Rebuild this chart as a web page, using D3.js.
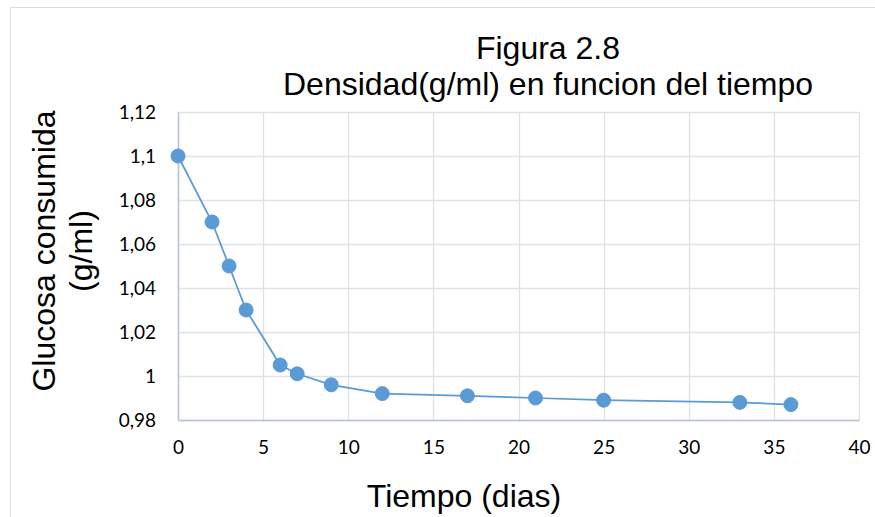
<!DOCTYPE html>
<html>
<head>
<meta charset="utf-8">
<script src="https://cdn.jsdelivr.net/npm/d3@7"></script>
<style>
  body { margin: 0; background: #fff; }
</style>
</head>
<body>
<div id="chart"></div>
<script>
// data
var dias = [0, 2, 3, 4, 6, 7, 9, 12, 17, 21, 25, 33, 36];
var densidad = [1.1, 1.07, 1.05, 1.03, 1.005, 1.001, 0.996, 0.992, 0.991, 0.99, 0.989, 0.988, 0.987];
var xTicks = [0, 5, 10, 15, 20, 25, 30, 35, 40];
var yTicks = [0.98, 1, 1.02, 1.04, 1.06, 1.08, 1.1, 1.12];
var titleLines = ["Figura 2.8", "Densidad(g/ml) en funcion del tiempo"];

const W = 875, H = 517;
const margin = {top: 112, right: 16, bottom: 97, left: 178};
const width = W - margin.left - margin.right,
      height = H - margin.top - margin.bottom;

const root = d3.select("#chart").append("svg")
    .attr("width", W).attr("height", H);

// outer chart border
root.append("rect")
    .attr("x", 10.5).attr("y", 7.5)
    .attr("width", W).attr("height", H)
    .attr("fill", "none").attr("stroke", "#d9dde3");

const svg = root.append("g")
    .attr("transform", `translate(${margin.left},${margin.top})`);

const x = d3.scaleLinear().domain([0, 40]).range([0, width]);
const y = d3.scaleLinear().domain([0.98, 1.12]).range([height, 0]);

// grid
svg.append("g")
    .selectAll("line")
    .data(yTicks)
    .join("line")
    .attr("x1", 0).attr("x2", width)
    .attr("y1", d => Math.round(y(d)) + 0.5).attr("y2", d => Math.round(y(d)) + 0.5)
    .attr("stroke", "#dde2e8").attr("stroke-width", 1.3);

svg.append("g")
    .selectAll("line")
    .data(xTicks)
    .join("line")
    .attr("y1", 0).attr("y2", height)
    .attr("x1", d => Math.round(x(d)) + 0.5).attr("x2", d => Math.round(x(d)) + 0.5)
    .attr("stroke", "#dde2e8").attr("stroke-width", 1.3);

const fmt = d => String(+d.toFixed(2)).replace(".", ",");

// axes
const xAxis = svg.append("g")
    .attr("transform", `translate(0,${height})`)
    .call(d3.axisBottom(x).tickValues(xTicks).tickSize(0).tickPadding(21).tickFormat(d => d));
xAxis.select(".domain").attr("stroke", "#b8c4d2").attr("stroke-width", 1.5);

const yAxis = svg.append("g")
    .call(d3.axisLeft(y).tickValues(yTicks).tickSize(0).tickPadding(22).tickFormat(fmt));
yAxis.select(".domain").attr("stroke", "#b8c4d2").attr("stroke-width", 1.5);

svg.selectAll(".tick text")
    .attr("fill", "#000")
    .style("font-family", "Lato, 'Open Sans', sans-serif")
    .style("font-size", "19px");

// line + markers
const line = d3.line()
    .x((d, i) => x(dias[i]))
    .y(d => y(d));

svg.append("path")
    .datum(densidad)
    .attr("d", line)
    .attr("fill", "none")
    .attr("stroke", "#5b9bd5")
    .attr("stroke-width", 1.75);

svg.selectAll("circle")
    .data(densidad)
    .join("circle")
    .attr("cx", (d, i) => x(dias[i]))
    .attr("cy", d => y(d))
    .attr("r", 7)
    .attr("fill", "#5b9bd5")
    .attr("stroke", "#5b9bd5");

// title
root.append("text")
    .attr("x", 548).attr("y", 59)
    .attr("text-anchor", "middle")
    .style("font-family", "'Liberation Sans', Arial, sans-serif")
    .style("font-size", "32px")
    .selectAll("tspan")
    .data(titleLines)
    .join("tspan")
    .attr("x", 548)
    .attr("dy", (d, i) => i === 0 ? 0 : 36)
    .text(d => d);

// axis titles
root.append("text")
    .attr("x", 464).attr("y", 507)
    .attr("text-anchor", "middle")
    .style("font-family", "'Liberation Sans', Arial, sans-serif")
    .style("font-size", "32px")
    .text("Tiempo (dias)");

const yl = root.append("text")
    .attr("transform", "translate(0,251) rotate(-90)")
    .attr("text-anchor", "middle")
    .style("font-family", "'Liberation Sans', Arial, sans-serif")
    .style("font-size", "32px");
yl.append("tspan").attr("x", 0).attr("y", 55).text("Glucosa consumida");
yl.append("tspan").attr("x", 0).attr("y", 92).text("(g/ml)");
</script>
</body>
</html>
